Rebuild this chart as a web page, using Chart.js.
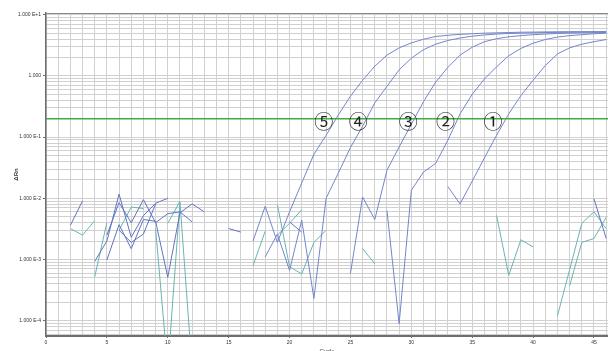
<!DOCTYPE html>
<html>
<head>
<meta charset="utf-8">
<script src="https://cdn.jsdelivr.net/npm/chart.js@4.4.0/dist/chart.umd.min.js"></script>
<style>
  html, body { margin: 0; padding: 0; background: #ffffff; }
  canvas { display: block; }
</style>
</head>
<body>
<canvas id="chart" width="608" height="351"></canvas>
<script>
const _ = null;

// Cycle numbers (x categories)
const CYCLES = [
  1, 2, 3, 4, 5, 6, 7, 8, 9, 10,
  11, 12, 13, 14, 15, 16, 17, 18, 19, 20,
  21, 22, 23, 24, 25, 26, 27, 28, 29, 30,
  31, 32, 33, 34, 35, 36, 37, 38, 39, 40,
  41, 42, 43, 44, 45, 46
];

// Amplification curves (delta Rn per cycle), one value per cycle, null = not plotted
const WELL_1 = [
  _, _, _, _, _, _, _, _, _, _,
  _, _, _, _, _, _, _, _, _, _,
  _, _, _, _, _, _, _, _, _, _,
  _, _, 0.0155, 0.0081, 0.0191, 0.0457, 0.107, 0.240, 0.479, 0.851,
  1.48, 2.29, 2.88, 3.31, 3.63, 3.94
];
const WELL_2 = [
  _, _, _, _, _, _, _, _, _, _,
  _, _, _, _, _, _, _, _, _, _,
  _, _, _, _, _, _, _, 0.0063, 0.000089, 0.0135,
  0.0269, 0.0372, 0.0891, 0.240, 0.501, 0.891, 1.41, 2.14, 2.82, 3.43,
  3.94, 4.32, 4.57, 4.73, 4.90, 5.01
];
const WELL_3 = [
  _, _, _, _, _, _, _, _, _, _,
  _, _, _, _, _, _, _, _, _, _,
  _, _, _, _, 0.00059, 0.0105, 0.0045, 0.0288, 0.0692, 0.162,
  0.380, 0.794, 1.38, 2.19, 2.95, 3.63, 4.07, 4.37, 4.57, 4.73,
  4.84, 4.95, 5.01, 5.07, 5.10, 5.13
];
const WELL_4 = [
  _, _, _, _, _, _, _, _, _, _,
  _, _, _, _, _, _, _, 0.0011, 0.0026, 0.00066,
  0.0044, 0.00023, 0.0100, 0.0257, 0.0676, 0.151, 0.363, 0.676, 1.26, 1.95,
  2.69, 3.31, 3.80, 4.17, 4.47, 4.68, 4.84, 4.95, 5.01, 5.07,
  5.13, 5.15, 5.18, 5.20, 5.22, 5.24
];
const WELL_5 = [
  _, _, _, _, _, _, _, _, _, _,
  _, _, _, _, _, _, 0.0020, 0.0074, 0.0019, 0.0060,
  0.0178, 0.0525, 0.107, 0.229, 0.468, 0.851, 1.445, 2.19, 2.88, 3.47,
  3.98, 4.42, 4.62, 4.79, 4.90, 5.01, 5.07, 5.13, 5.19, 5.22,
  5.25, 5.27, 5.29, 5.30, 5.31, 5.32
];

// Baseline readings of other wells (blue)
const NOISE_B1 = [
  _, 0.0036, 0.0091, _, _, _, _, _, _, _,
  _, _, _, _, 0.0032, 0.0028, _, _, _, _,
  _, _, _, _, _, _, _, _, _, _,
  _, _, _, _, _, _, _, _, _, _,
  _, _, _, _, 0.0098, 0.0022
];
const NOISE_B2 = [
  _, _, _, 0.00093, 0.0020, 0.0117, 0.0023, 0.0052, 0.0083, 0.0100,
  _, _, _, _, _, _, _, _, _, 0.0041,
  0.0028, _, _, _, _, _, _, _, _, _,
  _, _, _, _, _, _, _, _, _, _,
  _, _, _, _, _, _
];
const NOISE_B3 = [
  _, _, _, _, 0.00098, 0.0037, 0.0015, 0.0045, 0.0042, 0.00051,
  0.0058, 0.0081, 0.0060, _, _, _, _, _, _, _,
  _, _, _, _, _, _, _, _, _, _,
  _, _, _, _, _, _, _, _, _, _,
  _, _, _, _, _, _
];
const NOISE_B4 = [
  _, _, _, _, 0.0025, 0.0085, 0.0040, 0.0095, 0.0040, 0.0056,
  0.0060, 0.0041, _, _, _, _, _, _, _, _,
  _, _, _, _, _, _, _, _, _, _,
  _, _, _, _, _, _, _, _, _, _,
  _, _, _, _, _, _
];
const NOISE_B5 = [
  _, _, _, _, _, 0.0030, 0.0019, 0.0026, 0.0081, _,
  _, _, _, _, _, _, _, _, _, _,
  _, _, _, _, _, _, _, _, _, _,
  _, _, _, _, _, _, _, _, _, _,
  _, _, _, _, _, _
];

// Baseline readings of other wells (teal)
const NOISE_T1 = [
  _, 0.0032, 0.0025, 0.0043, _, _, _, _, _, _,
  _, _, _, _, _, _, 0.00079, 0.0029, _, _,
  _, _, _, _, _, 0.0015, 0.00085, _, _, _,
  _, _, _, _, _, _, 0.0052, 0.00055, 0.0021, 0.0016,
  _, _, _, _, _, _
];
const NOISE_T2 = [
  _, _, _, 0.00052, 0.0040, _, _, _, _, _,
  _, _, _, _, _, _, _, _, 0.0079, 0.00076,
  0.00058, 0.0019, 0.0030, _, _, _, _, _, _, _,
  _, _, _, _, _, _, _, _, _, _,
  _, 0.00012, 0.00068, 0.0039, 0.0060, 0.0032
];
const NOISE_T3 = [
  _, _, _, _, _, 0.0030, 0.0072, 0.0068, _, _,
  _, _, _, _, _, _, _, _, 0.0025, 0.0039,
  0.0065, _, _, _, _, _, _, _, _, _,
  _, _, _, _, _, _, _, _, _, _,
  _, _, 0.00037, 0.0019, 0.0022, 0.0049
];
const NOISE_T4 = [
  _, _, _, _, _, _, _, _, 0.0032, 0.000016,
  0.0087, 0.000016, _, _, _, _, _, _, _, _,
  _, _, _, _, _, _, _, _, _, _,
  _, _, _, _, _, _, _, _, _, _,
  _, _, _, _, _, _
];
const NOISE_T5 = [
  _, _, _, _, _, _, _, _, _, 0.0039,
  0.0089, _, _, _, _, _, _, _, _, _,
  _, _, _, _, _, _, _, _, _, _,
  _, _, _, _, _, _, _, _, _, _,
  _, _, _, _, _, _
];

const THRESHOLD = 0.2;

// Axis ticks
const X_TICK_VALUES = [0, 5, 10, 15, 20, 25, 30, 35, 40, 45];
const X_TICK_LABELS = ['0', '5', '10', '15', '20', '25', '30', '35', '40', '45'];
const Y_TICK_VALUES = [1e-4, 1e-3, 1e-2, 1e-1, 1, 10];
const Y_TICK_LABELS = ['1.000 E-4', '1.000 E-3', '1.000 E-2', '1.000 E-1', '1.000', '1.000 E+1'];

// Curve markers placed on the threshold
const CURVE_MARKS = ['\u2460', '\u2461', '\u2462', '\u2463', '\u2464'];
const CURVE_MARK_CYCLES = [36.7, 32.8, 29.75, 25.65, 22.8];
const CURVE_MARK_LEVEL = 0.178;

const X_MIN = 0, X_MAX = 46.15;
const Y_MIN = 5.6e-5, Y_MAX = 10.7;

const CURVE_BLUE = '#7386cb';
const BLUE = '#6274c2';
const TEAL = '#6ab4b2';
const GREEN = '#42aa42';
const GRID = '#d0d0d0';
const AXIS = '#6e6e6e';
const TICK_FONT = { family: 'Liberation Sans', size: 5 };

function series(values, color) {
  return {
    data: CYCLES.map((c, i) => ({ x: c, y: values[i] })),
    borderColor: color,
    borderWidth: 1,
    pointRadius: 0,
    tension: 0,
    spanGaps: false,
    fill: false
  };
}

function isDecade(v) {
  const l = Math.log10(v);
  return Math.abs(l - Math.round(l)) < 1e-9;
}

const frameTop = {
  id: 'frameTop',
  beforeDatasetsDraw(chart) {
    const { ctx, chartArea: a } = chart;
    ctx.save();
    ctx.strokeStyle = '#8a8a8a';
    ctx.lineWidth = 1;
    ctx.beginPath();
    ctx.moveTo(a.left, a.top + 0.5);
    ctx.lineTo(a.right, a.top + 0.5);
    ctx.stroke();
    ctx.restore();
  }
};

const curveMarks = {
  id: 'curveMarks',
  afterDatasetsDraw(chart) {
    const { ctx, scales: { x, y } } = chart;
    ctx.save();
    ctx.font = '19px "Noto Sans CJK JP"';
    ctx.fillStyle = '#222222';
    ctx.textAlign = 'center';
    ctx.textBaseline = 'middle';
    CURVE_MARKS.forEach((m, i) => {
      ctx.fillText(m, x.getPixelForValue(CURVE_MARK_CYCLES[i]), y.getPixelForValue(CURVE_MARK_LEVEL));
    });
    ctx.restore();
  }
};

const datasets = [
  {
    data: [{ x: X_MIN, y: THRESHOLD }, { x: X_MAX, y: THRESHOLD }],
    borderColor: GREEN, borderWidth: 1.5, pointRadius: 0, tension: 0
  },
  ...[WELL_1, WELL_2, WELL_3, WELL_4, WELL_5].map(v => series(v, CURVE_BLUE)),
  ...[NOISE_B1, NOISE_B2, NOISE_B3, NOISE_B4, NOISE_B5].map(v => series(v, BLUE)),
  ...[NOISE_T1, NOISE_T2, NOISE_T3, NOISE_T4, NOISE_T5].map(v => series(v, TEAL))
];

new Chart(document.getElementById('chart'), {
  type: 'line',
  data: { datasets },
  options: {
    responsive: false,
    devicePixelRatio: 1,
    animation: false,
    layout: { padding: { top: 13, right: 0, bottom: 0, left: 0 } },
    plugins: { legend: { display: false }, tooltip: { enabled: false }, title: { display: false } },
    scales: {
      x: {
        type: 'linear',
        min: X_MIN,
        max: X_MAX,
        afterBuildTicks: s => { s.ticks = [0, ...CYCLES].map(v => ({ value: v })); },
        afterFit: s => { s.height = 15; s.paddingLeft = 0; s.paddingRight = 0; },
        ticks: {
          autoSkip: false,
          maxRotation: 0,
          padding: 2,
          color: '#333333',
          font: TICK_FONT,
          callback: v => {
            const k = X_TICK_VALUES.indexOf(v);
            return k >= 0 ? X_TICK_LABELS[k] : '';
          }
        },
        grid: {
          color: GRID,
          lineWidth: 1,
          tickLength: 2,
          tickColor: ctx => (ctx.tick && X_TICK_VALUES.includes(ctx.tick.value)) ? AXIS : 'rgba(0,0,0,0)'
        },
        border: { color: AXIS, width: 2 },
        title: {
          display: true,
          text: 'Cycle',
          color: '#333333',
          font: { family: 'Liberation Sans', size: 6 },
          padding: { top: 0, bottom: -3.5 }
        }
      },
      y: {
        type: 'logarithmic',
        min: Y_MIN,
        max: Y_MAX,
        afterBuildTicks: s => {
          const t = [];
          for (let e = -5; e <= 1; e++) {
            for (let m = 1; m <= 9; m++) {
              const v = m * Math.pow(10, e);
              if (v >= Y_MIN && v <= Y_MAX) t.push({ value: v });
            }
          }
          s.ticks = t;
        },
        afterFit: s => { s.width = 46; s.paddingTop = 0; s.paddingBottom = 0; },
        ticks: {
          autoSkip: false,
          padding: 2,
          color: '#333333',
          font: TICK_FONT,
          callback: v => {
            const k = Y_TICK_VALUES.findIndex(d => Math.abs(v / d - 1) < 1e-9);
            return k >= 0 ? Y_TICK_LABELS[k] : '';
          }
        },
        grid: {
          color: GRID,
          lineWidth: 1,
          tickLength: 3,
          tickColor: ctx => (ctx.tick && isDecade(ctx.tick.value)) ? AXIS : 'rgba(0,0,0,0)'
        },
        border: { color: AXIS, width: 1.5 },
        title: {
          display: true,
          text: '\u0394Rn',
          color: '#333333',
          font: { family: 'Liberation Sans', size: 6, weight: 'bold' },
          padding: { top: 13, bottom: 0 }
        }
      }
    }
  },
  plugins: [frameTop, curveMarks]
});
</script>
</body>
</html>
